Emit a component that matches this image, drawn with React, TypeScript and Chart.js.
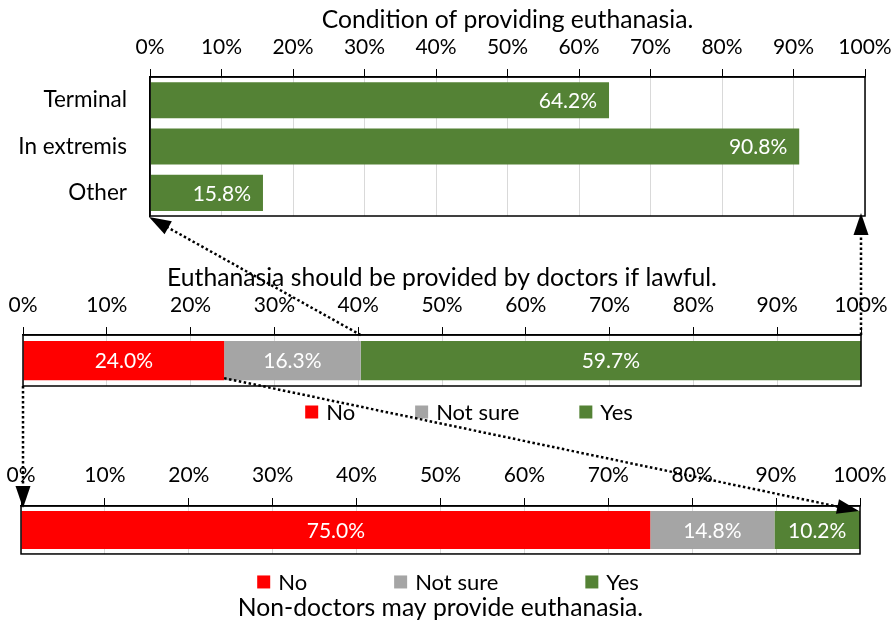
import React, { useEffect, useRef } from 'react';
import { Chart, registerables } from 'chart.js';

Chart.register(...registerables);

const FONT = 'Lato';

// ---- data ----
const conditionCategories = ['Terminal', 'In extremis', 'Other'];
const conditionValues = [64.2, 90.8, 15.8];

const responseLabels = ['No', 'Not sure', 'Yes'];
const doctorsValues = [24.0, 16.3, 59.7];
const nonDoctorsValues = [75.0, 14.8, 10.2];

const titleTop = 'Condition of providing euthanasia.';
const titleMiddle = 'Euthanasia should be provided by doctors if lawful.';
const titleBottom = 'Non-doctors may provide euthanasia.';

const responseColors = ['#FF0000', '#A5A5A5', '#548235'];
const yesColor = '#548235';

const TICK_SIZE = 21;
const CAT_SIZE = 22.5;
const VALUE_SIZE = 21;
const LEGEND_SIZE = 22;
const TITLE_SIZE = 24.7;

// ---- plugins ----
const framePlugin = {
  id: 'frame',
  afterDatasetsDraw(chart: any) {
    const { ctx, chartArea } = chart;
    ctx.save();
    ctx.strokeStyle = '#000';
    ctx.lineWidth = 1.5;
    ctx.strokeRect(chartArea.left, chartArea.top, chartArea.right - chartArea.left, chartArea.bottom - chartArea.top);
    ctx.restore();
  },
};

const valueLabelPlugin = {
  id: 'valueLabels',
  afterDatasetsDraw(chart: any, _args: any, opts: any) {
    const { ctx } = chart;
    ctx.save();
    ctx.font = `${VALUE_SIZE}px ${FONT}`;
    ctx.fillStyle = '#fff';
    ctx.textBaseline = 'middle';
    chart.data.datasets.forEach((ds: any, di: number) => {
      const meta = chart.getDatasetMeta(di);
      meta.data.forEach((el: any, i: number) => {
        const v = ds.data[i];
        const txt = v.toFixed(1) + '%';
        if (opts.mode === 'end') {
          ctx.textAlign = 'right';
          ctx.fillText(txt, el.x - 12, el.y + 1);
        } else {
          ctx.textAlign = 'center';
          ctx.fillText(txt, (el.x + el.base) / 2, el.y + 1);
        }
      });
    });
    ctx.restore();
  },
};

const boxLegendPlugin = {
  id: 'boxLegend',
  afterDraw(chart: any, _args: any, opts: any) {
    if (!opts || !opts.show) return;
    const { ctx, chartArea } = chart;
    ctx.save();
    ctx.font = `${LEGEND_SIZE}px ${FONT}`;
    ctx.textBaseline = 'middle';
    ctx.textAlign = 'left';
    const box = 13;
    const gap = 8;
    const items = chart.data.datasets.map((ds: any) => ({
      text: ds.label,
      color: ds.backgroundColor,
      w: box + gap + ctx.measureText(ds.label).width,
    }));
    const total = items.reduce((s: number, it: any) => s + it.w, 0) + opts.spacing * (items.length - 1);
    let x = opts.centerX - total / 2;
    const y = chartArea.bottom + opts.offsetY;
    items.forEach((it: any) => {
      ctx.fillStyle = it.color;
      ctx.fillRect(x, y - box / 2, box, box);
      ctx.fillStyle = '#000';
      ctx.fillText(it.text, x + box + gap, y + 1);
      x += it.w + opts.spacing;
    });
    ctx.restore();
  },
};

const tickFont = { family: FONT, size: TICK_SIZE };

function xScale(height: number, pad: number) {
  return {
    position: 'top',
    min: 0,
    max: 100,
    stacked: true,
    ticks: {
      stepSize: 10,
      autoSkip: false,
      maxRotation: 0,
      padding: pad,
      color: '#000',
      font: tickFont,
      callback: (v: any) => v + '%',
    },
    grid: { color: '#d9d9d9', tickColor: '#000', tickLength: 8, lineWidth: 1 },
    border: { color: '#000', width: 1.5 },
    afterFit: (s: any) => {
      s.height = height;
      s.paddingLeft = 0;
      s.paddingRight = 0;
      s.paddingTop = 0;
      s.paddingBottom = 0;
    },
  };
}

function stackedConfig(
  values: number[],
  title: string,
  titlePos: string,
  titlePad: any,
  layoutPad: any,
  xHeight: number,
  xPad: number,
  legend: any,
  barPct: number
) {
  return {
    type: 'bar',
    data: {
      labels: [''],
      datasets: responseLabels.map((l, i) => ({
        label: l,
        data: [values[i]],
        backgroundColor: responseColors[i],
        barPercentage: barPct,
        categoryPercentage: 1,
      })),
    },
    options: {
      indexAxis: 'y',
      animation: false,
      responsive: false,
      layout: { padding: layoutPad },
      plugins: {
        legend: { display: false },
        tooltip: { enabled: false },
        title: {
          display: true,
          text: title,
          position: titlePos,
          color: '#000',
          font: { family: FONT, size: TITLE_SIZE, weight: 'normal' },
          padding: titlePad,
        },
        valueLabels: { mode: 'center' },
        boxLegend: legend,
      },
      scales: {
        x: xScale(xHeight, xPad),
        y: { display: false, stacked: true },
      },
    },
    plugins: [framePlugin, valueLabelPlugin, boxLegendPlugin],
  };
}

function drawArrow(ctx: CanvasRenderingContext2D, x1: number, y1: number, x2: number, y2: number) {
  const dx = x2 - x1;
  const dy = y2 - y1;
  const len = Math.hypot(dx, dy);
  const ux = dx / len;
  const uy = dy / len;
  const headLen = 22;
  const headHalf = 7.5;
  const bx = x2 - ux * headLen;
  const by = y2 - uy * headLen;
  ctx.save();
  ctx.strokeStyle = '#000';
  ctx.lineWidth = 2.5;
  ctx.setLineDash([2.5, 2.5]);
  ctx.beginPath();
  ctx.moveTo(x1, y1);
  ctx.lineTo(bx + ux * 2, by + uy * 2);
  ctx.stroke();
  ctx.setLineDash([]);
  ctx.fillStyle = '#000';
  ctx.beginPath();
  ctx.moveTo(x2, y2);
  ctx.lineTo(bx - uy * headHalf, by + ux * headHalf);
  ctx.lineTo(bx + uy * headHalf, by - ux * headHalf);
  ctx.closePath();
  ctx.fill();
  ctx.restore();
}

const TOP_Y = 0;
const MID_Y = 255;
const BOT_Y = 445;

export default function App() {
  const topRef = useRef<HTMLCanvasElement>(null);
  const midRef = useRef<HTMLCanvasElement>(null);
  const botRef = useRef<HTMLCanvasElement>(null);
  const arrowRef = useRef<HTMLCanvasElement>(null);

  useEffect(() => {
    const top = new Chart(topRef.current as any, {
      type: 'bar',
      data: {
        labels: conditionCategories,
        datasets: [
          {
            label: 'Condition',
            data: conditionValues,
            backgroundColor: yesColor,
            barPercentage: 0.78,
            categoryPercentage: 1,
          },
        ],
      },
      options: {
        indexAxis: 'y',
        animation: false,
        responsive: false,
        layout: { padding: { left: 0, right: 26, top: 0, bottom: 14 } },
        plugins: {
          legend: { display: false },
          tooltip: { enabled: false },
          title: {
            display: true,
            fullSize: false,
            text: titleTop,
            color: '#000',
            font: { family: FONT, size: TITLE_SIZE, weight: 'normal' },
            padding: { top: 5.2, bottom: 0 },
          },
          valueLabels: { mode: 'end' },
        } as any,
        scales: {
          x: xScale(42.2, 9.4) as any,
          y: {
            ticks: { color: '#000', font: { family: FONT, size: CAT_SIZE }, padding: 23 },
            grid: { display: false, drawTicks: false },
            border: { color: '#000', width: 1.5 },
            afterFit: (s: any) => {
              s.width = 150;
              s.paddingTop = 0;
              s.paddingBottom = 0;
              s.paddingLeft = 0;
              s.paddingRight = 0;
            },
          },
        },
      },
      plugins: [framePlugin, valueLabelPlugin],
    } as any);

    const mid = new Chart(
      midRef.current as any,
      stackedConfig(
        doctorsValues,
        titleMiddle,
        'top',
        { top: 8.2, bottom: 0 },
        { left: 23, right: 30, top: 0, bottom: 44 },
        42.2,
        9.4,
        { show: true, centerX: 469, spacing: 60, offsetY: 26 },
        0.77
      ) as any
    );

    const bot = new Chart(
      botRef.current as any,
      stackedConfig(
        nonDoctorsValues,
        titleBottom,
        'bottom',
        { top: 39.2, bottom: 0.2 },
        { left: 21, right: 31, top: 0, bottom: 0 },
        61,
        10.4,
        { show: true, centerX: 448, spacing: 87, offsetY: 28 },
        0.79
      ) as any
    );

    // arrows overlay
    const actx = arrowRef.current!.getContext('2d')!;
    actx.clearRect(0, 0, 891, 623);
    const tA = top.chartArea;
    const mA = mid.chartArea;
    const bA = bot.chartArea;
    const midNotSure: any = mid.getDatasetMeta(1).data[0];
    const midNo: any = mid.getDatasetMeta(0).data[0];
    const botYes: any = bot.getDatasetMeta(2).data[0];
    const mx100 = mid.scales.x.getPixelForValue(100);
    const mx0 = mid.scales.x.getPixelForValue(0);

    drawArrow(actx, midNotSure.x, MID_Y + mA.top, tA.left - 1, TOP_Y + tA.bottom + 1);
    drawArrow(actx, mx100, MID_Y + mA.top, mx100, TOP_Y + tA.bottom - 3);
    drawArrow(actx, mx0, MID_Y + mA.bottom, mx0, BOT_Y + bA.top + 2);
    drawArrow(
      actx,
      midNo.x,
      MID_Y + midNo.y + midNo.height / 2 - 2,
      botYes.x - 1,
      BOT_Y + botYes.y - botYes.height / 2
    );

    return () => {
      top.destroy();
      mid.destroy();
      bot.destroy();
    };
  }, []);

  const abs = (t: number, h: number): React.CSSProperties => ({ position: 'absolute', left: 0, top: t, width: 891, height: h });

  return (
    <div style={{ position: 'absolute', left: 0, top: 0, width: 891, height: 623, background: '#fff' }}>
      <canvas ref={topRef} width={891} height={230} style={abs(TOP_Y, 230)} />
      <canvas ref={midRef} width={891} height={175} style={abs(MID_Y, 175)} />
      <canvas ref={botRef} width={891} height={178} style={abs(BOT_Y, 178)} />
      <canvas ref={arrowRef} width={891} height={623} style={{ ...abs(0, 623), pointerEvents: 'none' }} />
    </div>
  );
}
